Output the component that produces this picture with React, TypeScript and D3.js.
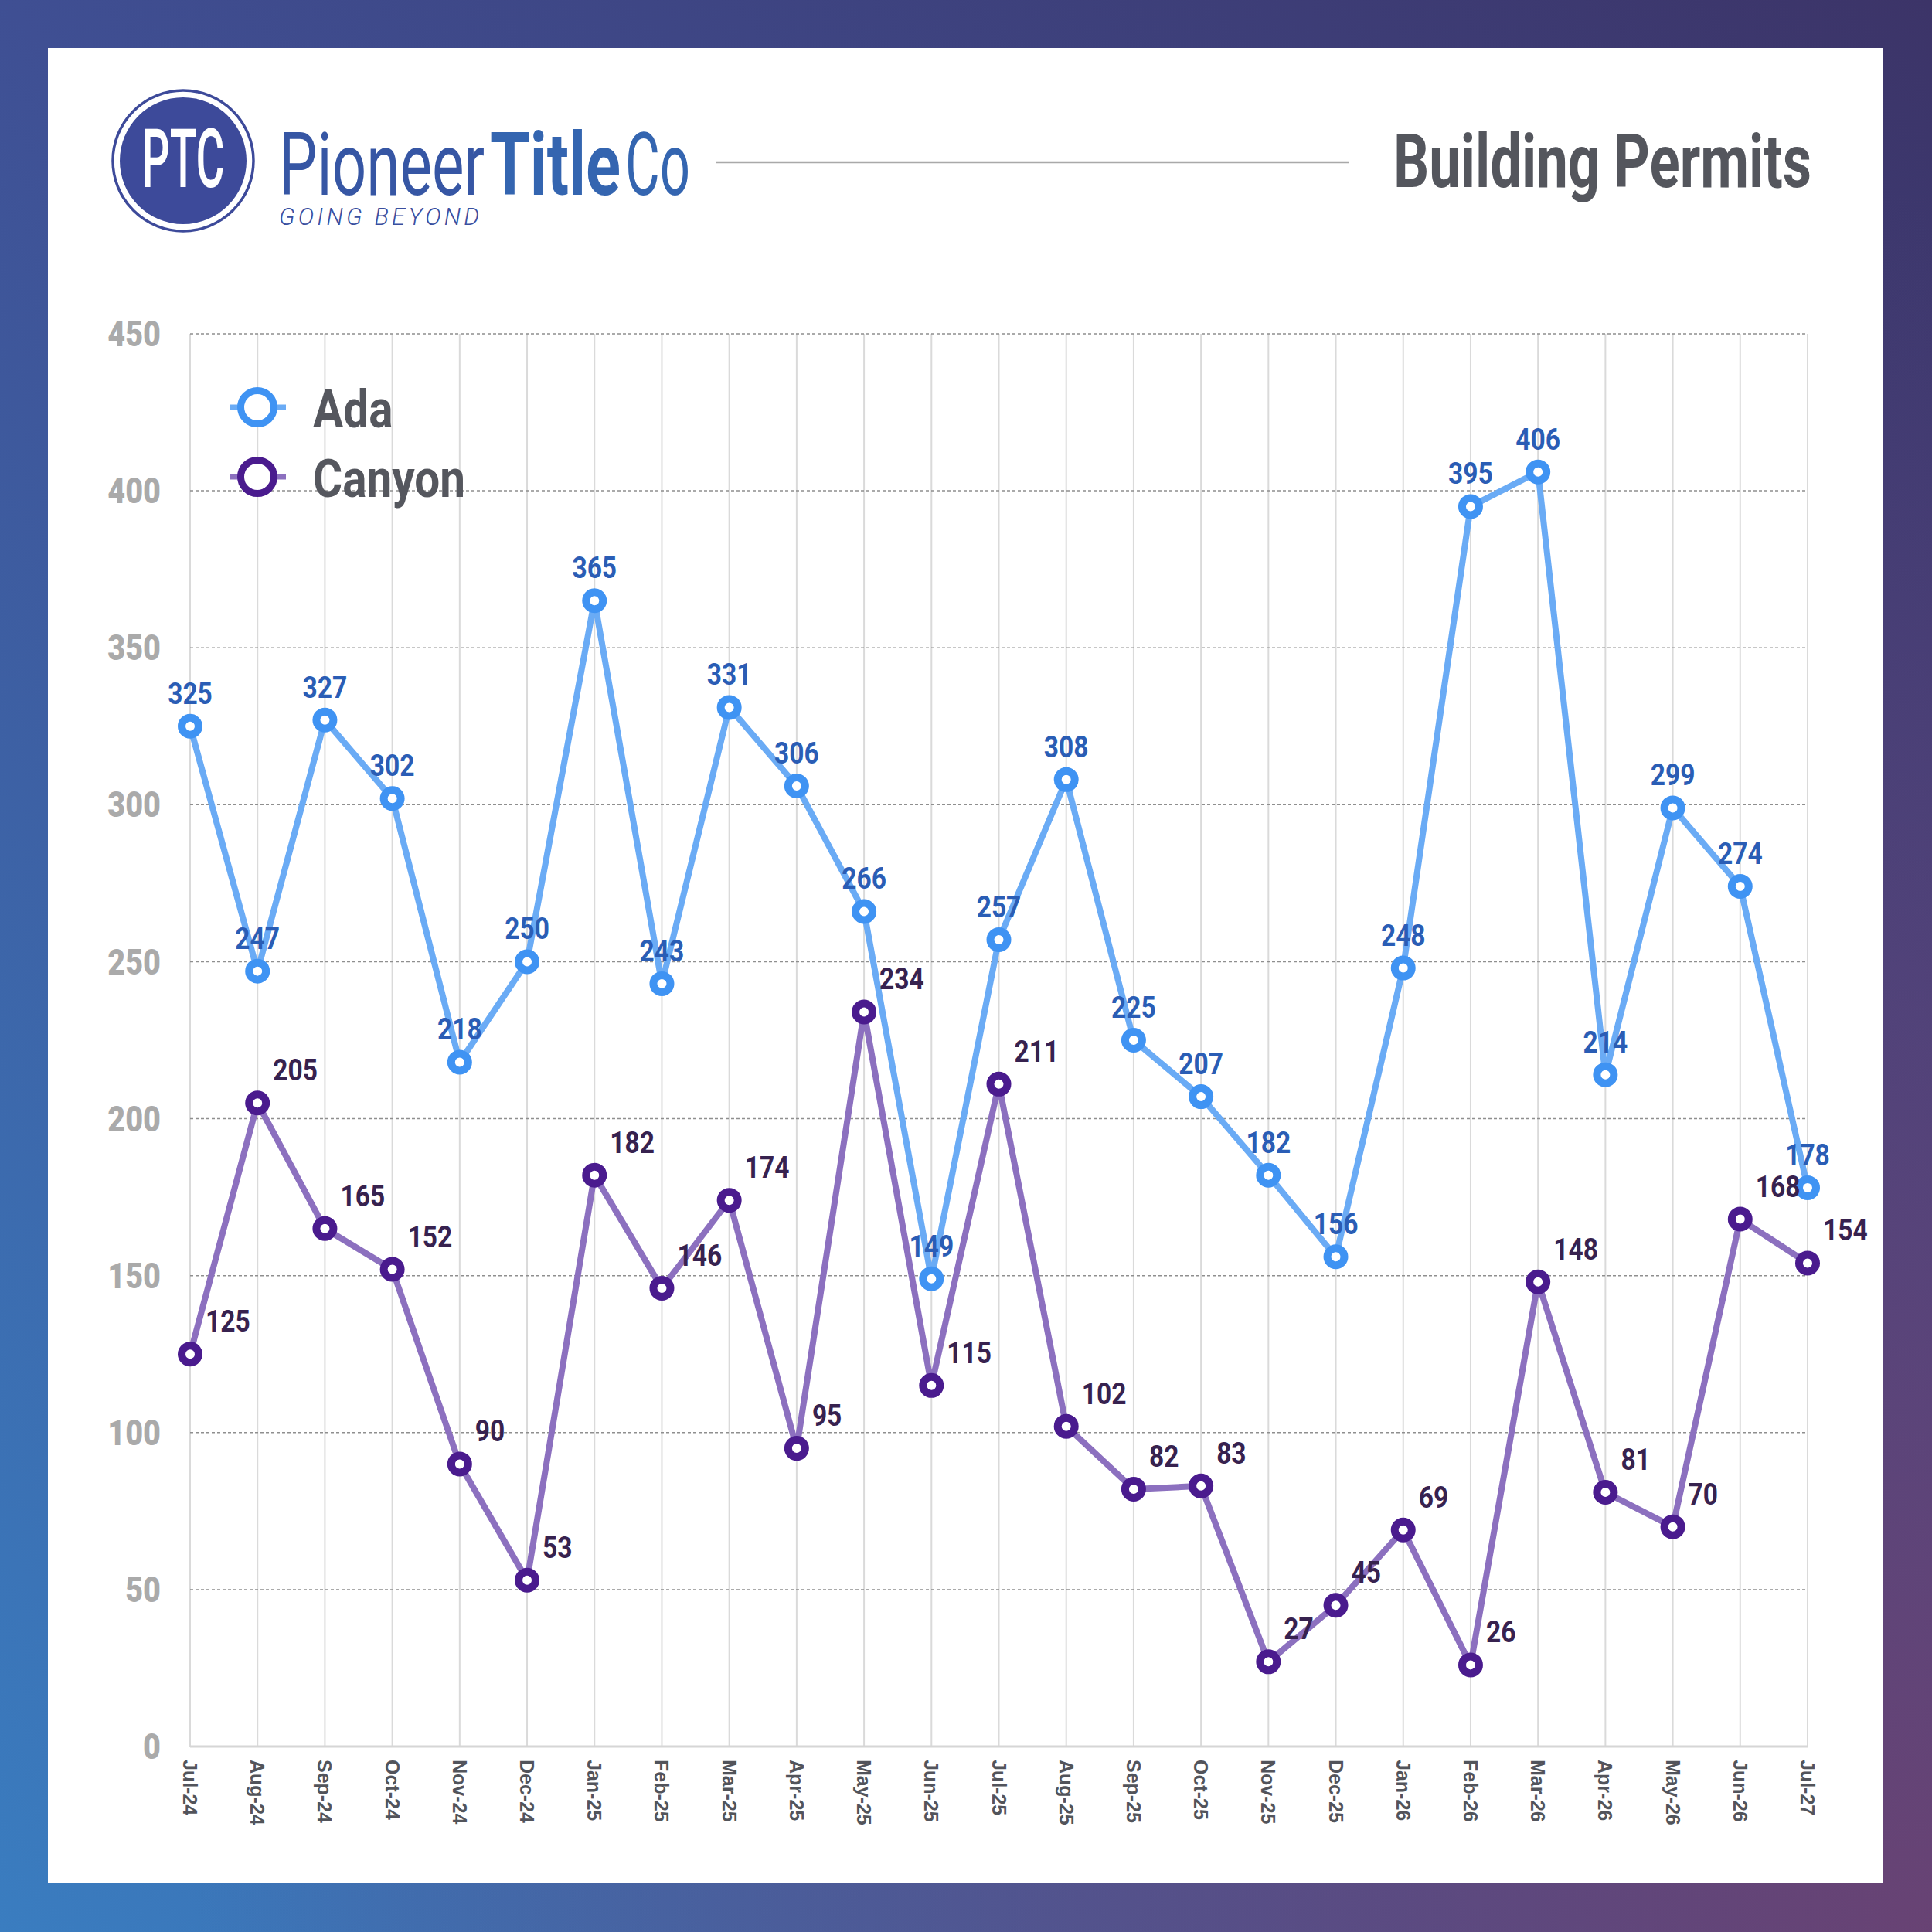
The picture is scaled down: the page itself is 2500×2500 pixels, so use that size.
import * as d3 from "d3";

const months = [
  "Jul-24", "Aug-24", "Sep-24", "Oct-24", "Nov-24", "Dec-24",
  "Jan-25", "Feb-25", "Mar-25", "Apr-25", "May-25", "Jun-25",
  "Jul-25", "Aug-25", "Sep-25", "Oct-25", "Nov-25", "Dec-25",
  "Jan-26", "Feb-26", "Mar-26", "Apr-26", "May-26", "Jun-26", "Jul-27",
];

const ada = [
  325, 247, 327, 302, 218, 250, 365, 243, 331, 306, 266, 149,
  257, 308, 225, 207, 182, 156, 248, 395, 406, 214, 299, 274, 178,
];

const canyon = [
  125, 205, 165, 152, 90, 53, 182, 146, 174, 95, 234, 115,
  211, 102, 82, 83, 27, 45, 69, 26, 148, 81, 70, 168, 154,
];

const yTicks = [0, 50, 100, 150, 200, 250, 300, 350, 400, 450];

const W = 2500;
const H = 2500;
const PLOT = { left: 246, right: 2339, top: 432, bottom: 2260 };

const FONT = "Roboto, 'Noto Sans', sans-serif";
const SQ = 0.86; // horizontal squeeze for condensed look

const SERIES = [
  { name: "Ada", values: ada, line: "#6aabf5", marker: "#3f93f3", label: "#2a5db5", above: true },
  { name: "Canyon", values: canyon, line: "#8c70bf", marker: "#4a1b8e", label: "#37224f", above: false },
];

export default function App() {
  const x = d3.scalePoint<string>().domain(months).range([PLOT.left, PLOT.right]);
  const y = d3.scaleLinear().domain([0, 450]).range([PLOT.bottom, PLOT.top]);

  const line = d3
    .line<number>()
    .x((_, i) => x(months[i]) as number)
    .y((d) => y(d));

  return (
    <svg
      width={W}
      height={H}
      viewBox={`0 0 ${W} ${H}`}
      style={{ position: "absolute", left: 0, top: 0, display: "block" }}
      fontFamily={FONT}
    >
      <defs>
        <linearGradient id="bg" x1="0" y1="1" x2="1" y2="0">
          <stop offset="0%" stopColor="#3a7dc0" />
          <stop offset="50%" stopColor="#3f4f93" />
          <stop offset="100%" stopColor="#3c3468" />
        </linearGradient>
        <radialGradient id="bgWarm" cx="1" cy="1" r="0.9">
          <stop offset="0%" stopColor="#6a4272" stopOpacity={0.95} />
          <stop offset="100%" stopColor="#6a4272" stopOpacity={0} />
        </radialGradient>
      </defs>

      {/* background */}
      <rect x={0} y={0} width={W} height={H} fill="url(#bg)" />
      <rect x={0} y={0} width={W} height={H} fill="url(#bgWarm)" />
      <rect x={62} y={62} width={2375} height={2375} fill="#ffffff" />

      {/* logo */}
      <circle cx={237} cy={208} r={91} fill="#ffffff" stroke="#3d4a9a" strokeWidth={3.5} />
      <circle cx={237} cy={208} r={82} fill="#3d4a9a" />
      <text
        x={237}
        y={242}
        textAnchor="middle"
        fill="#ffffff"
        fontSize={105}
        fontWeight={500}
        textLength={107}
        lengthAdjust="spacingAndGlyphs"
      >
        PTC
      </text>
      <text x={361} y={252} fontSize={114} fill="#3656a4" textLength={266} lengthAdjust="spacingAndGlyphs">
        Pioneer
      </text>
      <text
        x={634}
        y={252}
        fontSize={114}
        fontWeight={700}
        fill="#3465b0"
        textLength={169}
        lengthAdjust="spacingAndGlyphs"
      >
        Title
      </text>
      <text x={809} y={252} fontSize={114} fill="#3465b0" textLength={84} lengthAdjust="spacingAndGlyphs">
        Co
      </text>
      <text
        x={361}
        y={291}
        fontSize={31}
        fontStyle="italic"
        fontWeight={300}
        fill="#3a4f9f"
        textLength={259}
        lengthAdjust="spacing"
      >
        GOING BEYOND
      </text>

      <line x1={927} x2={1746} y1={210} y2={210} stroke="#a9a9a9" strokeWidth={2.5} />

      <text
        x={2344}
        y={242}
        textAnchor="end"
        fontSize={97}
        fontWeight={700}
        fill="#54565d"
        textLength={541}
        lengthAdjust="spacingAndGlyphs"
      >
        Building Permits
      </text>

      {/* vertical grid */}
      <g>
        {months.map((m) => (
          <line
            key={m}
            x1={x(m)}
            x2={x(m)}
            y1={PLOT.top}
            y2={PLOT.bottom}
            stroke="#dadada"
            strokeWidth={2}
          />
        ))}
      </g>

      {/* horizontal grid */}
      <g>
        {yTicks.map((t) =>
          t === 0 ? (
            <line key={t} x1={PLOT.left} x2={PLOT.right} y1={y(t)} y2={y(t)} stroke="#d6d6d6" strokeWidth={3} />
          ) : (
            <line
              key={t}
              x1={PLOT.left}
              x2={PLOT.right}
              y1={y(t)}
              y2={y(t)}
              stroke="#8f8f8f"
              strokeWidth={1.5}
              strokeDasharray="4 3"
            />
          )
        )}
      </g>

      {/* y labels */}
      <g>
        {yTicks.map((t) => (
          <text
            key={t}
            transform={`translate(208,${y(t)}) scale(${SQ},1)`}
            textAnchor="end"
            dominantBaseline="central"
            fontSize={46}
            fontWeight={900}
            fill="#aaaaaa"
          >
            {t}
          </text>
        ))}
      </g>

      {/* x labels */}
      <g>
        {months.map((m) => (
          <text
            key={m}
            transform={`translate(${x(m)},2277) rotate(90)`}
            textAnchor="start"
            dominantBaseline="central"
            fontFamily="'Liberation Sans', Arial, sans-serif"
            fontSize={25}
            fontWeight={700}
            fill="#52545b"
          >
            {m}
          </text>
        ))}
      </g>

      {/* lines */}
      {SERIES.map((s) => (
        <path
          key={s.name}
          d={line(s.values) ?? ""}
          fill="none"
          stroke={s.line}
          strokeWidth={8}
          strokeLinejoin="round"
        />
      ))}

      {/* markers */}
      {SERIES.map((s) => (
        <g key={s.name}>
          {s.values.map((v, i) => (
            <circle
              key={i}
              cx={x(months[i])}
              cy={y(v)}
              r={11}
              fill="#ffffff"
              stroke={s.marker}
              strokeWidth={10}
            />
          ))}
        </g>
      ))}

      {/* data labels */}
      {SERIES.map((s) => (
        <g key={s.name}>
          {s.values.map((v, i) => {
            const px = x(months[i]) as number;
            const py = y(v);
            const tx = s.above ? px : px + 20;
            return (
              <text
                key={i}
                transform={`translate(${tx},${py - 29}) scale(${SQ},1)`}
                textAnchor={s.above ? "middle" : "start"}
                fontSize={39}
                fontWeight={700}
                fill={s.label}
              >
                {v}
              </text>
            );
          })}
        </g>
      ))}

      {/* legend */}
      {SERIES.map((s, i) => {
        const cy = 527 + i * 90;
        return (
          <g key={s.name}>
            <line x1={298} x2={370} y1={cy} y2={cy} stroke={s.line} strokeWidth={7} />
            <circle cx={333} cy={cy} r={21.5} fill="#ffffff" stroke={s.marker} strokeWidth={9} />
            <text
              transform={`translate(405,${cy + 26}) scale(${SQ},1)`}
              fontSize={68}
              fontWeight={700}
              fill="#55575e"
            >
              {s.name}
            </text>
          </g>
        );
      })}
    </svg>
  );
}
